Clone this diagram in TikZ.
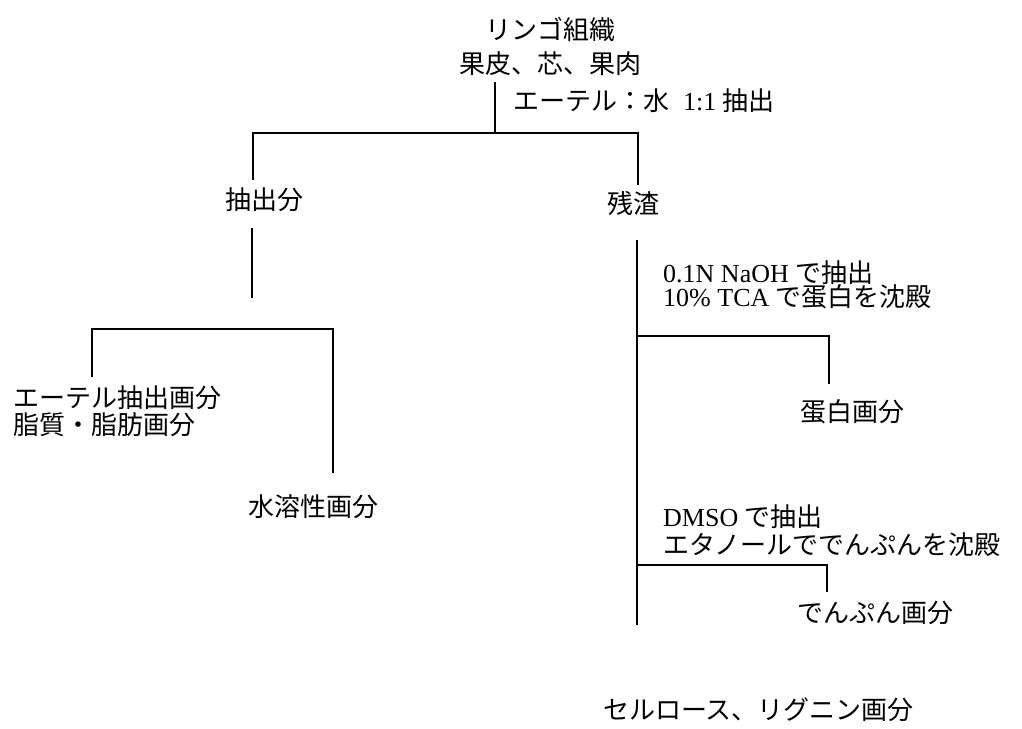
\documentclass[tikz,border=0pt]{standalone}
\usepackage{fontspec}
\setmainfont{Liberation Serif}
\newfontfamily\jp{Noto Sans CJK JP}
\begin{document}
\begin{tikzpicture}[x=1pt,y=-1pt,
  conn/.style={line width=2pt},
  txt/.style={inner sep=0pt, font=\fontsize{26}{30}\selectfont\jp},
  ltxt/.style={txt, anchor=west}]
\useasboundingbox[fill=white] (0,0) rectangle (1022,728);

% texts
\node[txt] (t1) at (550,30) {リンゴ組織};
\node[txt] (t2) at (550,64) {果皮、芯、果肉};
\node[ltxt] (l1) at (513,101) {エーテル：水\hspace{14pt}{\rmfamily 1:1}\hspace{6pt}抽出};
\node[txt] (ext) at (264,200) {抽出分};
\node[txt] (res) at (633,203) {残渣};
\node[ltxt] (eth1) at (13,398) {エーテル抽出画分};
\node[ltxt] (eth2) at (13,425) {脂質・脂肪画分};
\node[ltxt] (wat) at (248,507) {水溶性画分};
\node[ltxt] (n1) at (663,273) {{\rmfamily 0.1N NaOH }で抽出};
\node[ltxt] (n2) at (663,297) {{\rmfamily 10\% TCA }で蛋白を沈殿};
\node[ltxt] (prot) at (800,412) {蛋白画分};
\node[ltxt] (d1) at (663,517) {{\rmfamily DMSO }で抽出};
\node[ltxt] (d2) at (663,545) {エタノールででんぷんを沈殿};
\node[ltxt] (starch) at (797,613) {でんぷん画分};
\node[ltxt] (cell) at (603,710) {セルロース、リグニン画分};

% coordinates
\coordinate (a0) at (495,82);
\coordinate (a1) at (495,133);
\coordinate (b1) at (253,180);
\coordinate (b2) at (638,185);
\coordinate (c0) at (252,228);
\coordinate (c1) at (252,298);
\coordinate (dL) at (92,329);
\coordinate (dR) at (333,329);
\coordinate (dL1) at (92,377);
\coordinate (dR1) at (333,473);
\coordinate (e0) at (637,240);
\coordinate (e1) at (637,625);
\coordinate (f0) at (637,336);
\coordinate (f1) at (829,336);
\coordinate (f2) at (829,384);
\coordinate (g0) at (637,565);
\coordinate (g1) at (827,565);
\coordinate (g2) at (827,592);

% connectors
\draw[conn] (a0) -- (a1);
\draw[conn] (b1) -- (b1 |- a1) -- (b2 |- a1) -- (b2);
\draw[conn] (c0) -- (c1);
\draw[conn] (dL1) -- (dL) -- (dR) -- (dR1);
\draw[conn] (e0) -- (e1);
\draw[conn] (f0) -- (f1) -- (f2);
\draw[conn] (g0) -- (g1) -- (g2);
\end{tikzpicture}
\end{document}
